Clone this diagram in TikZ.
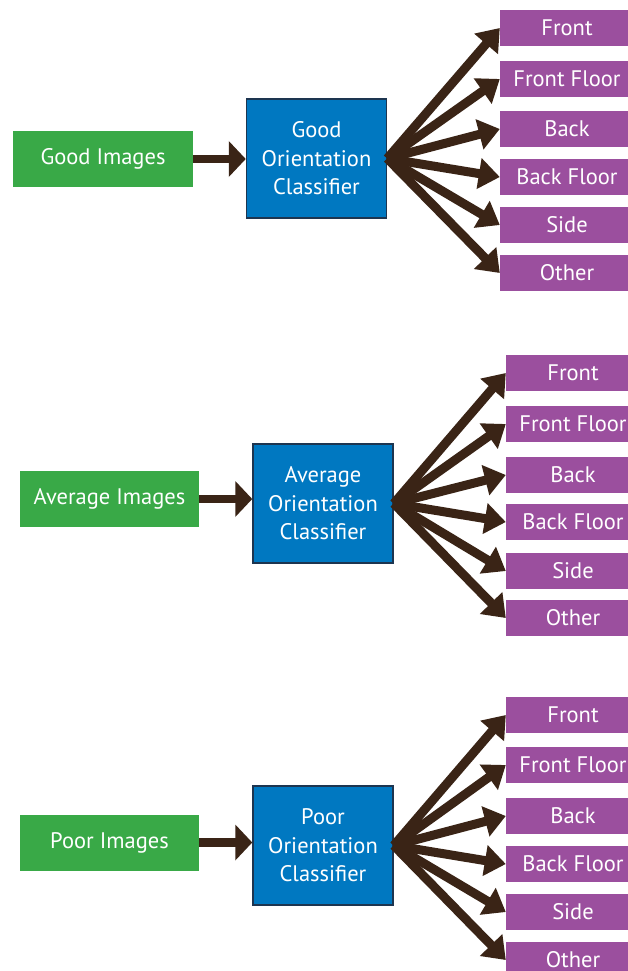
\documentclass[tikz,border=0pt]{standalone}
\usepackage{fontspec}
\setmainfont{PT Sans}
\usetikzlibrary{arrows.meta}
\definecolor{gbox}{HTML}{39A947}
\definecolor{bbox}{HTML}{0078C1}
\definecolor{bborder}{HTML}{1D3550}
\definecolor{pbox}{HTML}{9B4F9E}
\definecolor{arr}{HTML}{3A2416}
\tikzset{
  x=1pt, y=-1pt,
  greenbox/.style={fill=gbox, draw=none, text=white, minimum width=#1, minimum height=56pt, inner sep=0pt, font=\fontsize{22.5}{24}\selectfont},
  bluebox/.style={fill=bbox, draw=bborder, line width=1.5pt, text=white, minimum width=140pt, minimum height=119pt, inner sep=0pt, align=center, font=\fontsize{22.5}{28.5}\selectfont},
  purplebox/.style={fill=pbox, draw=none, text=white, minimum width=134pt, minimum height=36pt, inner sep=0pt, font=\fontsize{22.5}{24}\selectfont},
  mainarrow/.style={draw=arr, line width=8.5pt, -{Triangle[length=17pt,width=35pt]}},
  fanarrow/.style={draw=arr, line width=9pt, -{Triangle[length=21pt,width=30pt]}}
}
\begin{document}
\begin{tikzpicture}
\clip (0,0) rectangle (628,971);
\fill[white] (0,0) rectangle (628,971);
% ---------- Group 1 ----------
\node[greenbox=180pt] (g1) at (103,159) {Good Images};
\node[bluebox] (b1) at (316.5,158.5) {Good\\Orientation\\Classifier};
\node[purplebox] (p11) at (567,28) {Front};
\node[purplebox] (p12) at (567,79) {Front Floor};
\node[purplebox] (p13) at (567,129) {Back};
\node[purplebox] (p14) at (567,177) {Back Floor};
\node[purplebox] (p15) at (567,225) {Side};
\node[purplebox] (p16) at (567,273) {Other};
\draw[mainarrow] (g1.east) -- (b1.west |- g1.east);
\foreach \i in {1,...,6} { \draw[fanarrow] (b1.east) -- (p1\i.west); }
% ---------- Group 2 ----------
\node[greenbox=179pt] (g2) at (109.5,499) {Average Images};
\node[bluebox] (b2) at (323,503.5) {Average\\Orientation\\Classifier};
\node[purplebox] (p21) at (573,373) {Front};
\node[purplebox] (p22) at (573,424) {Front Floor};
\node[purplebox] (p23) at (573,475) {Back};
\node[purplebox] (p24) at (573,522) {Back Floor};
\node[purplebox] (p25) at (573,571) {Side};
\node[purplebox] (p26) at (573,618) {Other};
\draw[mainarrow] (g2.east) -- (b2.west |- g2.east);
\foreach \i in {1,...,6} { \draw[fanarrow] (b2.east) -- (p2\i.west); }
% ---------- Group 3 ----------
\node[greenbox=179pt] (g3) at (109.5,842.5) {Poor Images};
\node[bluebox] (b3) at (323,845.5) {Poor\\Orientation\\Classifier};
\node[purplebox] (p31) at (573,715) {Front};
\node[purplebox] (p32) at (573,765) {Front Floor};
\node[purplebox] (p33) at (573,816) {Back};
\node[purplebox] (p34) at (573,864) {Back Floor};
\node[purplebox] (p35) at (573,912) {Side};
\node[purplebox] (p36) at (573,960) {Other};
\draw[mainarrow] (g3.east) -- (b3.west |- g3.east);
\foreach \i in {1,...,6} { \draw[fanarrow] (b3.east) -- (p3\i.west); }
\end{tikzpicture}
\end{document}
